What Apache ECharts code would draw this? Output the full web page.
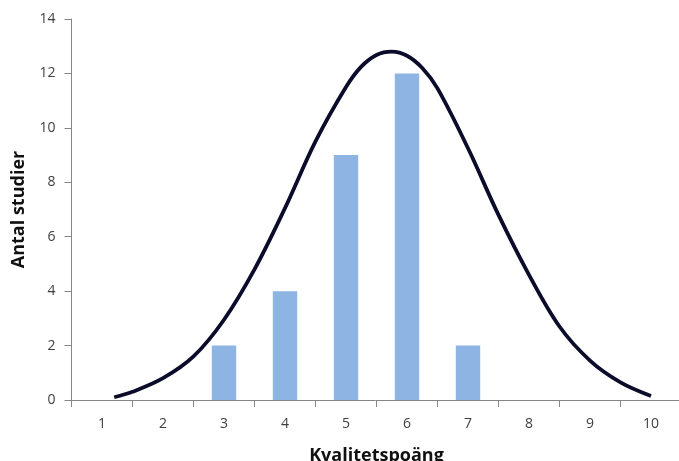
<!DOCTYPE html>
<html>
<head>
<meta charset="utf-8">
<script src="https://cdn.jsdelivr.net/npm/echarts@6/dist/echarts.min.js"></script>
<style>
html,body{margin:0;padding:0;background:#fff;}
#chart{width:679px;height:461px;}
</style>
</head>
<body>
<div id="chart"></div>
<script>
const categories = ['1','2','3','4','5','6','7','8','9','10'];
const barValues = [0, 0, 2, 4, 9, 12, 2, 0, 0, 0];
const yTicks = [0, 2, 4, 6, 8, 10, 12, 14];
// curve points: x position on the score scale, and value
const curveX = [1.2, 1.5, 2.0, 2.5, 3.0, 3.5, 4.0, 4.5, 5.0, 5.25, 5.5, 5.75, 6.0, 6.25, 6.5, 7.0, 7.5, 8.0, 8.5, 9.0, 9.5, 10.0];
const curveY = [0.1, 0.3, 0.8, 1.6, 2.95, 4.8, 7.05, 9.5, 11.5, 12.25, 12.68, 12.8, 12.65, 12.2, 11.45, 9.25, 6.8, 4.6, 2.7, 1.45, 0.65, 0.15];

const curveData = curveX.map((x, i) => [x, curveY[i]]);

const chart = echarts.init(document.getElementById('chart'), null, {renderer: 'canvas'});
const axisGray = '#868686';
const labelColor = '#404040';
const fontFam = '"Open Sans", "Liberation Sans", sans-serif';

chart.setOption({
  animation: false,
  backgroundColor: '#ffffff',
  grid: {left: 71.5, right: -2.5, top: 19, bottom: 61, containLabel: false, outerBoundsMode: 'none'},
  xAxis: [
    {
      type: 'category',
      data: categories,
      boundaryGap: true,
      axisLine: {lineStyle: {color: axisGray, width: 1}},
      axisTick: {show: true, length: 7, lineStyle: {color: axisGray}},
      axisLabel: {color: labelColor, fontSize: 14, fontFamily: fontFam, margin: 17},
      name: 'Kvalitetspoäng',
      nameLocation: 'middle',
      nameGap: 47,
      nameTextStyle: {color: '#111', fontSize: 18, fontWeight: 'bold', fontFamily: fontFam}
    },
    {
      type: 'value',
      min: 0.5,
      max: 10.5,
      show: false
    }
  ],
  yAxis: {
    type: 'value',
    min: 0,
    max: 14,
    interval: 2,
    axisLine: {show: true, lineStyle: {color: axisGray, width: 1}},
    axisTick: {show: true, length: 7, lineStyle: {color: axisGray}},
    splitLine: {show: false},
    axisLabel: {color: labelColor, fontSize: 14, fontFamily: fontFam, margin: 16,
      formatter: v => yTicks.includes(v) ? String(v) : ''},
    name: 'Antal studier',
    nameLocation: 'middle',
    nameGap: 44,
    nameTextStyle: {color: '#111', fontSize: 18, fontWeight: 'bold', fontFamily: fontFam}
  },
  series: [
    {
      type: 'bar',
      data: barValues,
      xAxisIndex: 0,
      barWidth: '40%',
      itemStyle: {color: '#8DB4E2'}
    },
    {
      type: 'line',
      data: curveData,
      xAxisIndex: 1,
      smooth: 0.35,
      showSymbol: false,
      symbol: 'none',
      lineStyle: {color: '#0b0b2a', width: 3.8},
      z: 5
    }
  ]
});
</script>
</body>
</html>
